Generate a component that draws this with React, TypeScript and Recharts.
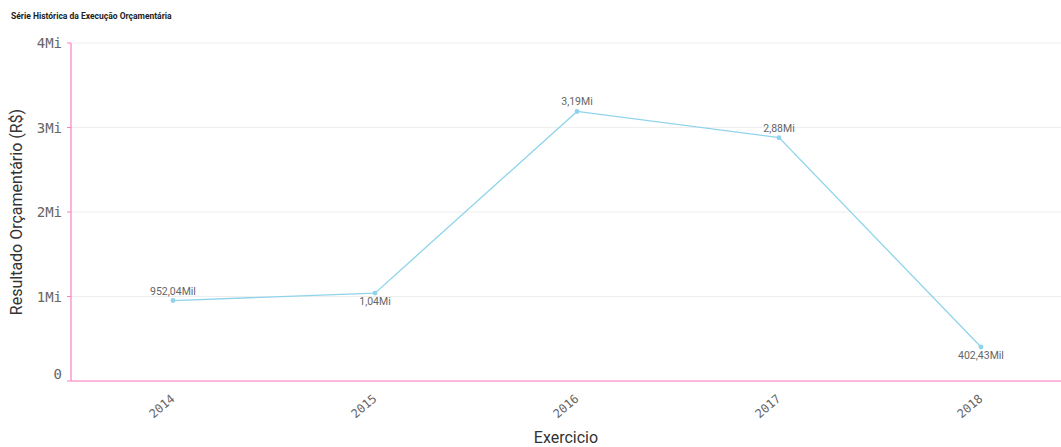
import React from 'react';
import { LineChart, Line, XAxis, YAxis, CartesianGrid, LabelList } from 'recharts';

const years = ['2014', '2015', '2016', '2017', '2018'];
const resultado = [952040, 1040000, 3190000, 2880000, 402430];
const valueLabels = ['952,04Mil', '1,04Mi', '3,19Mi', '2,88Mi', '402,43Mil'];
const labelBelow = [false, true, false, false, true];
const yTicks = [0, 1000000, 2000000, 3000000, 4000000];
const yTickLabels = ['0', '1Mi', '2Mi', '3Mi', '4Mi'];

const data = years.map((y, i) => ({ year: y, value: resultado[i], label: valueLabels[i], below: labelBelow[i] }));

const MONO = '"DejaVu Sans Mono", monospace';
const SANS = 'Roboto, "Noto Sans", sans-serif';
const PINK = '#ff7fbf';
const LINE = '#8fd3ec';

const YTick = (props: any) => {
  const { x, y, payload } = props;
  const idx = yTicks.indexOf(payload.value);
  const dy = payload.value === 0 ? -7 : 0;
  return (
    <text x={x - 3} y={y + dy} dy={5} textAnchor="end" fontFamily={MONO} fontSize={14} fill="#666">
      {yTickLabels[idx]}
    </text>
  );
};

const XTick = (props: any) => {
  const { x, y, payload } = props;
  return (
    <g transform={`translate(${x},${y + 8})`}>
      <text transform="rotate(-40)" textAnchor="end" dy={4} fontFamily={MONO} fontSize={12} fill="#666">
        {payload.value}
      </text>
    </g>
  );
};

const ValueLabel = (props: any) => {
  const { x, y, index } = props;
  const d = data[index];
  const ty = d.below ? y + 12 : y - 6;
  return (
    <text x={x} y={ty} textAnchor="middle" fontFamily={SANS} fontSize={10.5} fill="#666">
      {d.label}
    </text>
  );
};

export default function App() {
  return (
    <div style={{ position: 'absolute', left: 0, top: 0, width: 1061, height: 447, background: '#fff' }}>
      <div style={{ position: 'absolute', left: 11, top: 11, fontFamily: SANS, fontWeight: 'bold', fontSize: 8.5, color: '#222' }}>
        Série Histórica da Execução Orçamentária
      </div>
      <LineChart width={1061} height={447} data={data} margin={{ top: 43, right: 0, left: 0, bottom: 0 }}>
        <CartesianGrid vertical={false} stroke="#eeeeee" />
        <XAxis
          dataKey="year"
          height={66}
          padding={{ left: 102, right: 80 }}
          axisLine={{ stroke: PINK, strokeWidth: 1.2 }}
          tickLine={false}
          tick={<XTick />}
          interval={0}
          label={{ value: 'Exercicio', position: 'insideBottom', offset: 0, dy: -4, fontFamily: SANS, fontSize: 16, fill: '#333' }}
        />
        <YAxis
          width={71}
          domain={[0, 4000000]}
          ticks={yTicks}
          axisLine={{ stroke: PINK, strokeWidth: 1.2 }}
          tickLine={{ stroke: PINK }}
          tickSize={4}
          tick={<YTick />}
          label={{ value: 'Resultado Orçamentário (R$)', angle: -90, position: 'insideLeft', offset: 0, dx: 16, dy: 0, fontFamily: SANS, fontSize: 16, fill: '#333', style: { textAnchor: 'middle' } }}
        />
        <Line
          type="linear"
          dataKey="value"
          stroke={LINE}
          strokeWidth={1.3}
          dot={{ r: 1.8, fill: LINE, stroke: LINE }}
          isAnimationActive={false}
        >
          <LabelList dataKey="label" content={<ValueLabel />} />
        </Line>
      </LineChart>
    </div>
  );
}
